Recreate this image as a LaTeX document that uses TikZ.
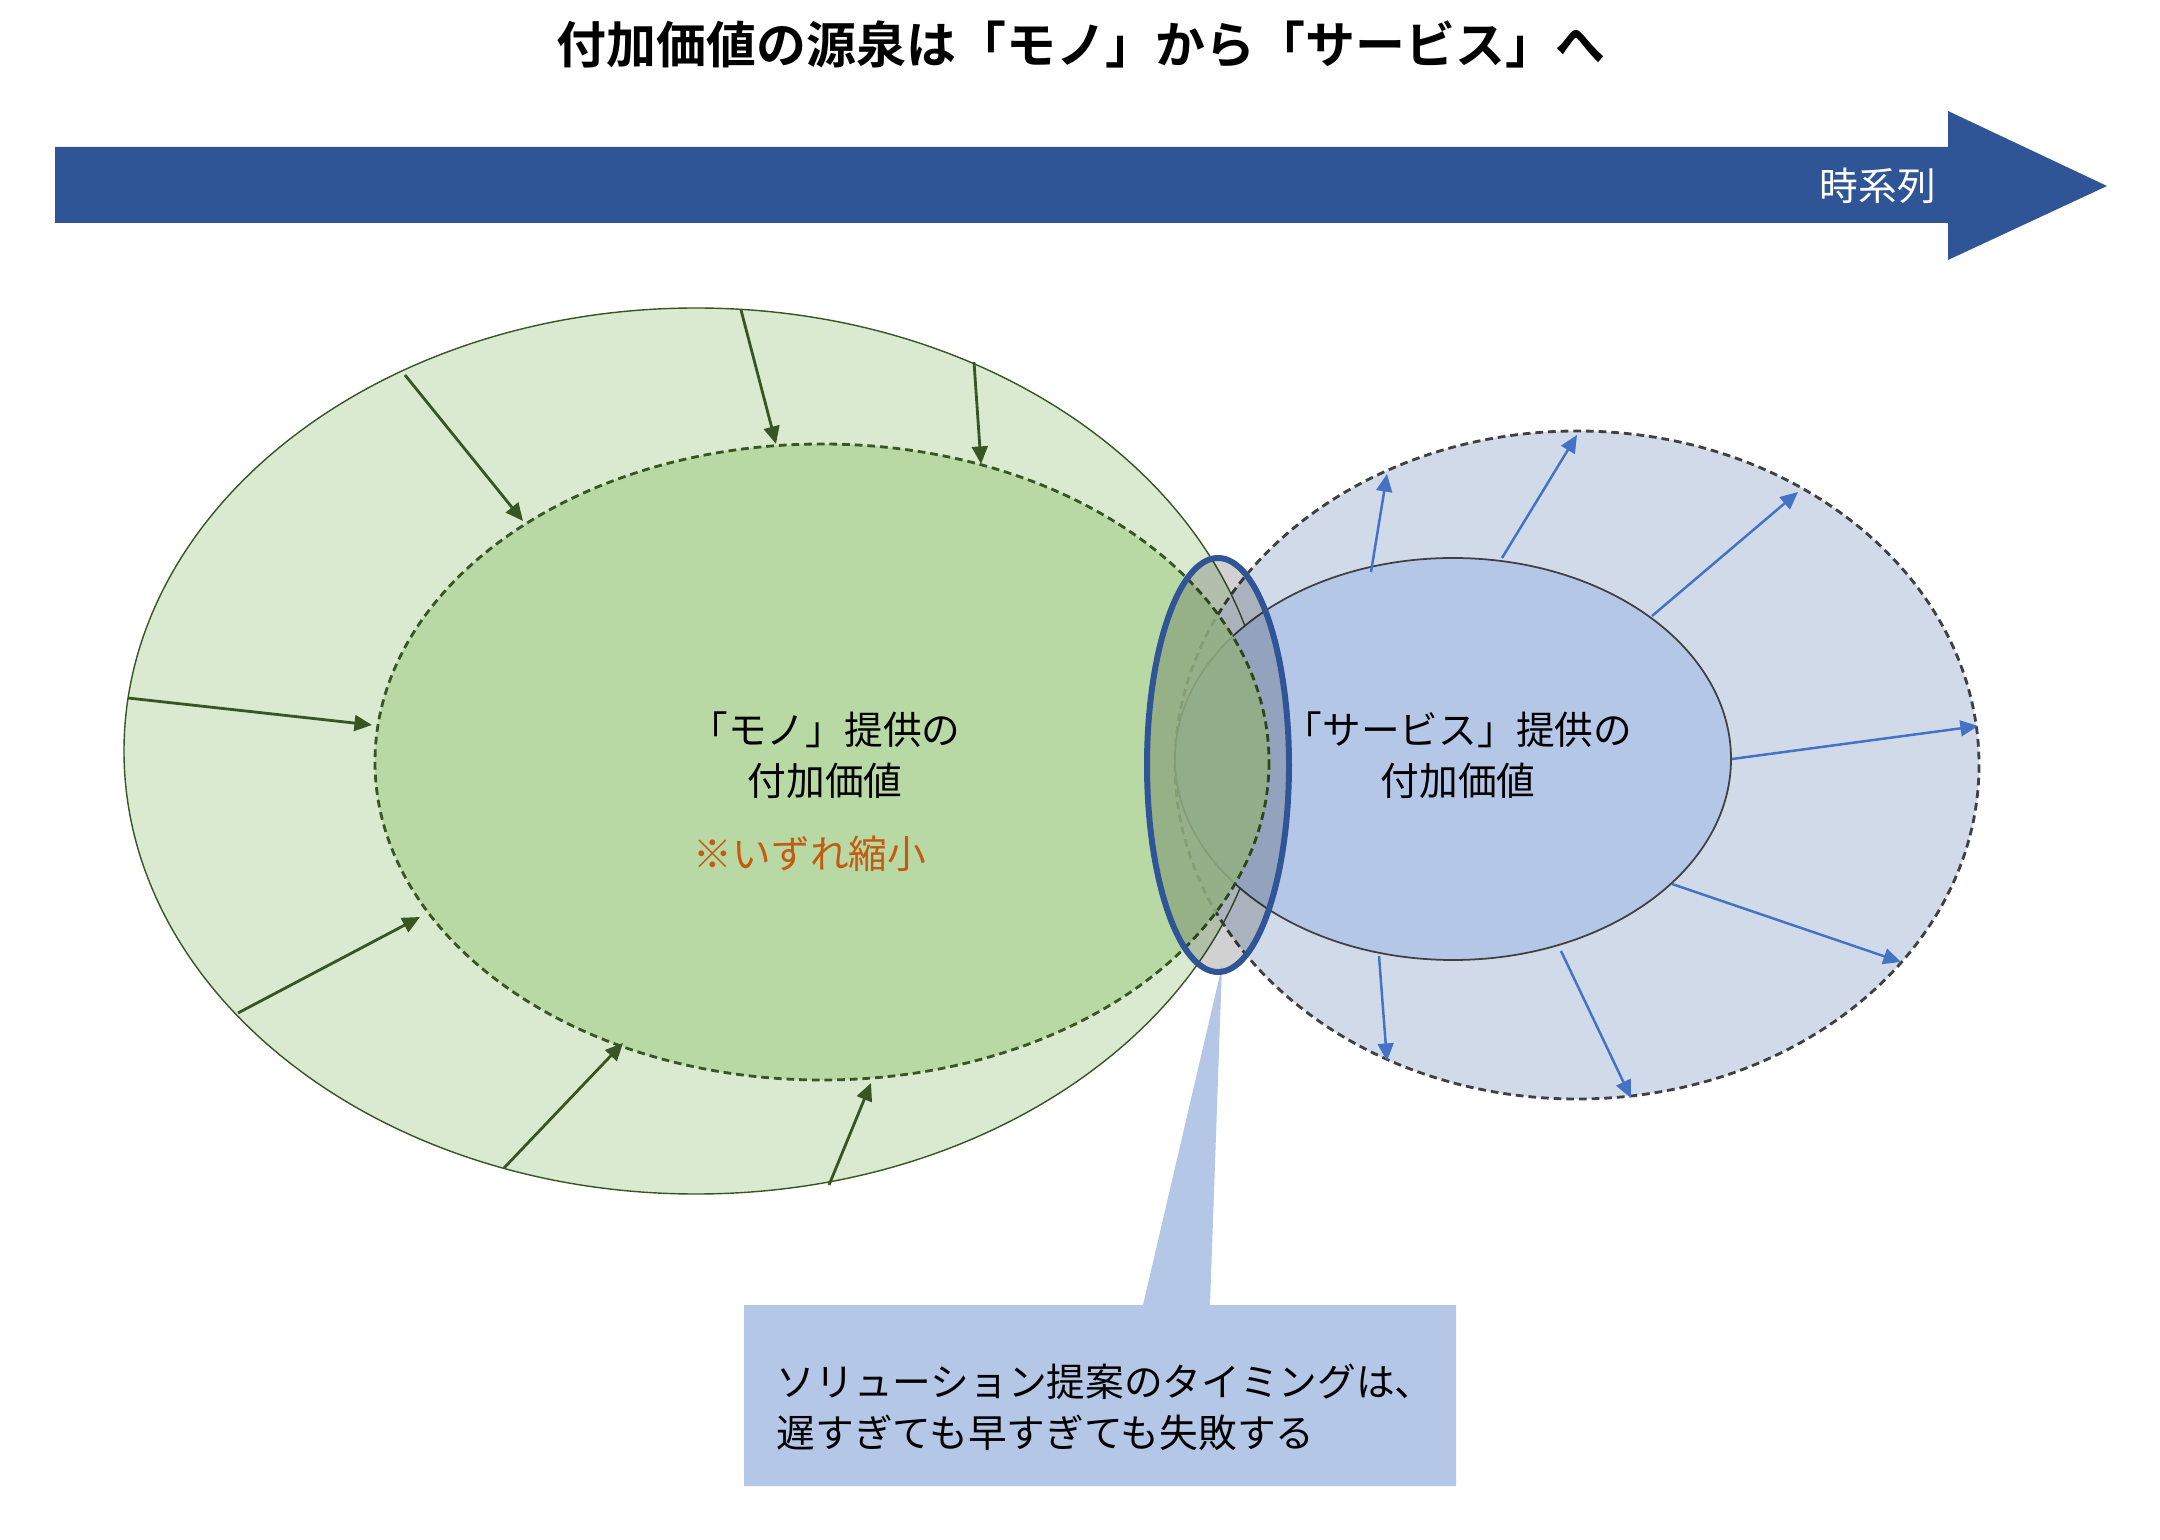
\documentclass[tikz,border=0pt]{standalone}
\usepackage{fontspec}
\setmainfont{Noto Sans CJK JP}[BoldFont={* Bold}]
\usetikzlibrary{arrows.meta}
\definecolor{monoLight}{HTML}{D9EAD1}
\definecolor{monoMid}{HTML}{B3D79D}
\definecolor{monoLine}{HTML}{375623}
\definecolor{svcLight}{HTML}{D0DAE9}
\definecolor{svcMid}{HTML}{B4C7E7}
\definecolor{svcLine}{HTML}{4472C4}
\definecolor{rimGray}{HTML}{404040}
\definecolor{timeBlue}{HTML}{2F5597}
\definecolor{noteOrange}{HTML}{C55A11}
\tikzset{
    in_arrow/.style={
        draw=monoLine,
        line width=0.8pt,
        -{Triangle[length=5pt, width=4.5pt]}
    },
    out_arrow/.style={
        draw=svcLine,
        line width=0.7pt,
        -{Triangle[length=5pt, width=4.5pt]}
    },
    dash_rim/.style={dash pattern=on 2.2pt off 1.4pt, line width=0.8pt},
    label_text/.style={font=\fontsize{11}{14.5}\selectfont, align=center, inner sep=0pt}
}

\begin{document}
\begin{tikzpicture}[x=0.01cm, y=-0.01cm]
    \useasboundingbox (0,0) rectangle (2160,1540);

    % Title
    \node[font=\bfseries\fontsize{14.2}{16}\selectfont] (title) at (1081,44) {付加価値の源泉は「モノ」から「サービス」へ};

    % Time axis arrow
    \fill[timeBlue] (55,147) -- (1948,147) -- (1948,111) -- (2107,186)
        -- (1948,260) -- (1948,223) -- (55,223) -- cycle;
    \node[label_text, text=white] (time) at (1878,186) {時系列};

    % Product side : outer
    \fill[monoLight] (696,751) ellipse [x radius=572, y radius=443];

    % Service side : outer (dashed)
    \draw[rimGray, dash_rim, fill=svcLight] (1577,765) ellipse [x radius=402, y radius=334];
    \draw[monoLine, line width=0.4pt] (696,751) ellipse [x radius=572, y radius=443];

    % Service side : inner
    \draw[rimGray, line width=0.5pt, fill=svcMid] (1453,759) ellipse [x radius=278, y radius=201];

    % Product side : inner (dashed)
    \fill[monoMid, fill opacity=0.85] (822,762) ellipse [x radius=447, y radius=318];
    \draw[monoLine, dash_rim] (822,762) ellipse [x radius=447, y radius=318];

    % Shrinking arrows
    \foreach \sx/\sy/\ex/\ey in {405/375/523/521, 741/310/776/444, 974/362/981/464,
        128/698/372/725, 238/1013/420/917, 504/1168/623/1043, 829/1185/871/1083}
        \draw[in_arrow] (\sx,\sy) -- (\ex,\ey);

    % Growing arrows
    \foreach \sx/\sy/\ex/\ey in {1371/572/1387/474, 1502/558/1577/435, 1652/616/1798/492,
        1732/759/1978/726, 1672/884/1901/962, 1561/951/1631/1098, 1379/956/1387/1061}
        \draw[out_arrow] (\sx,\sy) -- (\ex,\ey);

    \node[label_text] (mono) at (825,755) {「モノ」提供の\\付加価値};
    \node[label_text, text=noteOrange] (shrink) at (810,854) {※いずれ縮小};
    \node[label_text] (svc) at (1458,755) {「サービス」提供の\\付加価値};

    % Callout
    \fill[svcMid] (744,1305) -- (1143,1305) -- (1222,966) -- (1210,1305)
        -- (1456,1305) -- (1456,1486) -- (744,1486) -- cycle;
    \node[label_text, align=left, anchor=west] (note) at (776,1407)
        {ソリューション提案のタイミングは、\\遅すぎても早すぎても失敗する};

    % Timing window
    \draw[timeBlue, line width=1.7pt, fill=black, fill opacity=0.18] (1218,765) ellipse [x radius=71, y radius=207];
\end{tikzpicture}
\end{document}
